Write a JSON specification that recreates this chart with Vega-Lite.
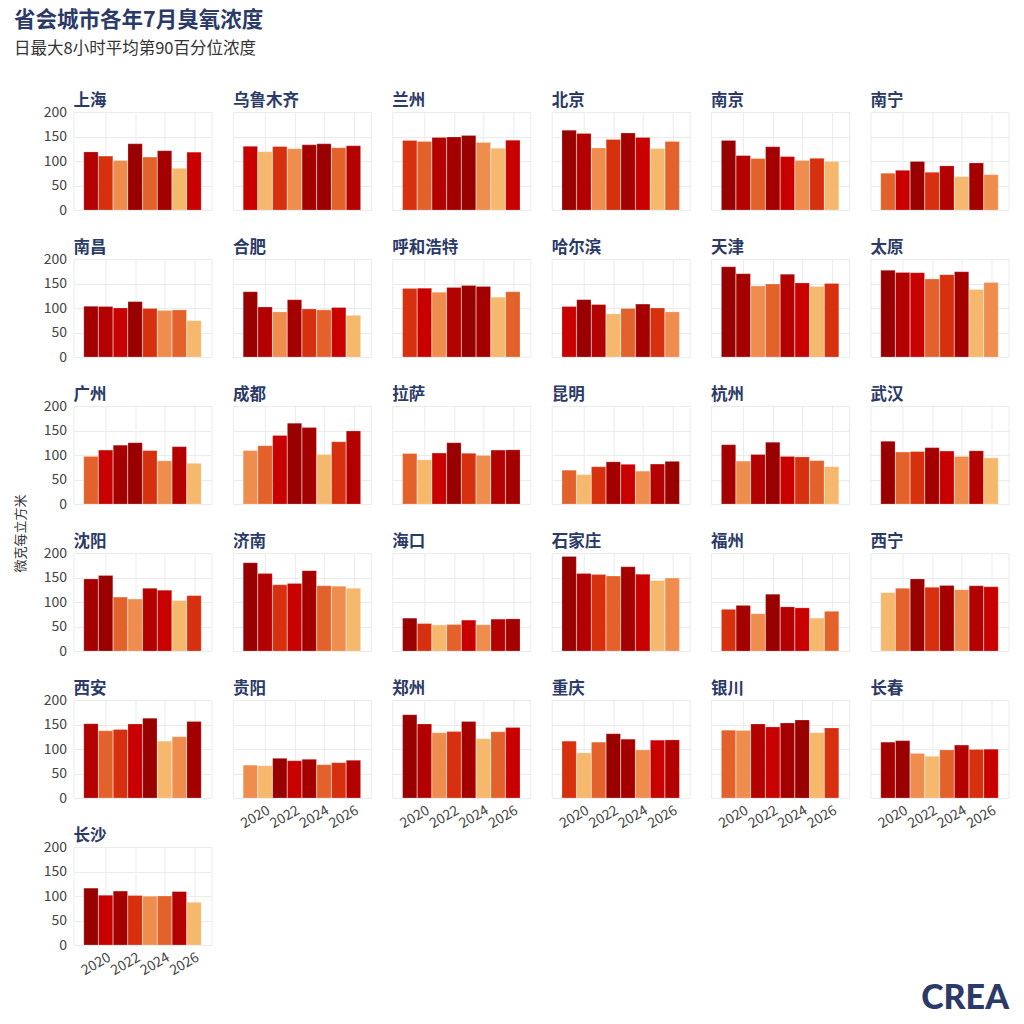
{
  "$schema": "https://vega.github.io/schema/vega-lite/v6.json",
  "description": "省会城市各年7月臭氧浓度, small multiples, bars coloured by rank within each city",
  "padding": {"left": 14, "top": 10, "right": 5, "bottom": 5},
  "background": "white",
  "title": {
    "text": "省会城市各年7月臭氧浓度",
    "subtitle": "日最大8小时平均第90百分位浓度",
    "anchor": "start",
    "font": "Noto Sans CJK SC",
    "fontSize": 21.5,
    "fontWeight": "bold",
    "color": "#2b3a67",
    "subtitleFont": "Noto Sans CJK SC",
    "subtitleFontSize": 16.5,
    "subtitleColor": "#333333",
    "subtitlePadding": 9,
    "offset": 35
  },
  "datasets": {
    "ozone": [
      {"city": "上海", "year": 2019, "value": 118.5}, {"city": "上海", "year": 2020, "value": 110}, {"city": "上海", "year": 2021, "value": 101}, {"city": "上海", "year": 2022, "value": 135}, {"city": "上海", "year": 2023, "value": 108}, {"city": "上海", "year": 2024, "value": 121}, {"city": "上海", "year": 2025, "value": 85}, {"city": "上海", "year": 2026, "value": 118},
      {"city": "乌鲁木齐", "year": 2019, "value": 130}, {"city": "乌鲁木齐", "year": 2020, "value": 119}, {"city": "乌鲁木齐", "year": 2021, "value": 129.5}, {"city": "乌鲁木齐", "year": 2022, "value": 125}, {"city": "乌鲁木齐", "year": 2023, "value": 133}, {"city": "乌鲁木齐", "year": 2024, "value": 135}, {"city": "乌鲁木齐", "year": 2025, "value": 127}, {"city": "乌鲁木齐", "year": 2026, "value": 131},
      {"city": "兰州", "year": 2019, "value": 142}, {"city": "兰州", "year": 2020, "value": 140}, {"city": "兰州", "year": 2021, "value": 148}, {"city": "兰州", "year": 2022, "value": 149}, {"city": "兰州", "year": 2023, "value": 152}, {"city": "兰州", "year": 2024, "value": 138}, {"city": "兰州", "year": 2025, "value": 126}, {"city": "兰州", "year": 2026, "value": 142.5},
      {"city": "北京", "year": 2019, "value": 163}, {"city": "北京", "year": 2020, "value": 156}, {"city": "北京", "year": 2021, "value": 126.5}, {"city": "北京", "year": 2022, "value": 144}, {"city": "北京", "year": 2023, "value": 157}, {"city": "北京", "year": 2024, "value": 148}, {"city": "北京", "year": 2025, "value": 125.5}, {"city": "北京", "year": 2026, "value": 140},
      {"city": "南京", "year": 2019, "value": 142}, {"city": "南京", "year": 2020, "value": 111}, {"city": "南京", "year": 2021, "value": 105}, {"city": "南京", "year": 2022, "value": 129}, {"city": "南京", "year": 2023, "value": 109}, {"city": "南京", "year": 2024, "value": 101}, {"city": "南京", "year": 2025, "value": 105.5}, {"city": "南京", "year": 2026, "value": 99},
      {"city": "南宁", "year": 2019, "value": 75}, {"city": "南宁", "year": 2020, "value": 81}, {"city": "南宁", "year": 2021, "value": 99}, {"city": "南宁", "year": 2022, "value": 77}, {"city": "南宁", "year": 2023, "value": 90}, {"city": "南宁", "year": 2024, "value": 68}, {"city": "南宁", "year": 2025, "value": 96}, {"city": "南宁", "year": 2026, "value": 72},
      {"city": "南昌", "year": 2019, "value": 103.5}, {"city": "南昌", "year": 2020, "value": 103}, {"city": "南昌", "year": 2021, "value": 100}, {"city": "南昌", "year": 2022, "value": 113}, {"city": "南昌", "year": 2023, "value": 99}, {"city": "南昌", "year": 2024, "value": 95}, {"city": "南昌", "year": 2025, "value": 96}, {"city": "南昌", "year": 2026, "value": 74},
      {"city": "合肥", "year": 2019, "value": 133}, {"city": "合肥", "year": 2020, "value": 102}, {"city": "合肥", "year": 2021, "value": 92}, {"city": "合肥", "year": 2022, "value": 117}, {"city": "合肥", "year": 2023, "value": 98}, {"city": "合肥", "year": 2024, "value": 96}, {"city": "合肥", "year": 2025, "value": 101}, {"city": "合肥", "year": 2026, "value": 85},
      {"city": "呼和浩特", "year": 2019, "value": 140}, {"city": "呼和浩特", "year": 2020, "value": 140.5}, {"city": "呼和浩特", "year": 2021, "value": 132}, {"city": "呼和浩特", "year": 2022, "value": 142}, {"city": "呼和浩特", "year": 2023, "value": 146}, {"city": "呼和浩特", "year": 2024, "value": 144}, {"city": "呼和浩特", "year": 2025, "value": 122}, {"city": "呼和浩特", "year": 2026, "value": 133},
      {"city": "哈尔滨", "year": 2019, "value": 103}, {"city": "哈尔滨", "year": 2020, "value": 117}, {"city": "哈尔滨", "year": 2021, "value": 107}, {"city": "哈尔滨", "year": 2022, "value": 88}, {"city": "哈尔滨", "year": 2023, "value": 99}, {"city": "哈尔滨", "year": 2024, "value": 108}, {"city": "哈尔滨", "year": 2025, "value": 100}, {"city": "哈尔滨", "year": 2026, "value": 92},
      {"city": "天津", "year": 2019, "value": 184}, {"city": "天津", "year": 2020, "value": 170}, {"city": "天津", "year": 2021, "value": 145}, {"city": "天津", "year": 2022, "value": 149}, {"city": "天津", "year": 2023, "value": 169}, {"city": "天津", "year": 2024, "value": 151}, {"city": "天津", "year": 2025, "value": 144}, {"city": "天津", "year": 2026, "value": 150},
      {"city": "太原", "year": 2019, "value": 177}, {"city": "太原", "year": 2020, "value": 172.5}, {"city": "太原", "year": 2021, "value": 172}, {"city": "太原", "year": 2022, "value": 159}, {"city": "太原", "year": 2023, "value": 168}, {"city": "太原", "year": 2024, "value": 174}, {"city": "太原", "year": 2025, "value": 138}, {"city": "太原", "year": 2026, "value": 152},
      {"city": "广州", "year": 2019, "value": 97}, {"city": "广州", "year": 2020, "value": 110}, {"city": "广州", "year": 2021, "value": 120}, {"city": "广州", "year": 2022, "value": 125}, {"city": "广州", "year": 2023, "value": 109}, {"city": "广州", "year": 2024, "value": 88}, {"city": "广州", "year": 2025, "value": 117}, {"city": "广州", "year": 2026, "value": 83},
      {"city": "成都", "year": 2019, "value": 109}, {"city": "成都", "year": 2020, "value": 119}, {"city": "成都", "year": 2021, "value": 140}, {"city": "成都", "year": 2022, "value": 165}, {"city": "成都", "year": 2023, "value": 156}, {"city": "成都", "year": 2024, "value": 101}, {"city": "成都", "year": 2025, "value": 127}, {"city": "成都", "year": 2026, "value": 149},
      {"city": "拉萨", "year": 2019, "value": 103}, {"city": "拉萨", "year": 2020, "value": 90}, {"city": "拉萨", "year": 2021, "value": 104}, {"city": "拉萨", "year": 2022, "value": 125}, {"city": "拉萨", "year": 2023, "value": 103.5}, {"city": "拉萨", "year": 2024, "value": 99}, {"city": "拉萨", "year": 2025, "value": 110}, {"city": "拉萨", "year": 2026, "value": 110.5},
      {"city": "昆明", "year": 2019, "value": 69}, {"city": "昆明", "year": 2020, "value": 60}, {"city": "昆明", "year": 2021, "value": 76}, {"city": "昆明", "year": 2022, "value": 86}, {"city": "昆明", "year": 2023, "value": 81}, {"city": "昆明", "year": 2024, "value": 67}, {"city": "昆明", "year": 2025, "value": 81.5}, {"city": "昆明", "year": 2026, "value": 87},
      {"city": "杭州", "year": 2019, "value": 121}, {"city": "杭州", "year": 2020, "value": 87.5}, {"city": "杭州", "year": 2021, "value": 101}, {"city": "杭州", "year": 2022, "value": 126}, {"city": "杭州", "year": 2023, "value": 97}, {"city": "杭州", "year": 2024, "value": 96}, {"city": "杭州", "year": 2025, "value": 88.5}, {"city": "杭州", "year": 2026, "value": 76},
      {"city": "武汉", "year": 2019, "value": 128}, {"city": "武汉", "year": 2020, "value": 106}, {"city": "武汉", "year": 2021, "value": 107}, {"city": "武汉", "year": 2022, "value": 115}, {"city": "武汉", "year": 2023, "value": 108}, {"city": "武汉", "year": 2024, "value": 97}, {"city": "武汉", "year": 2025, "value": 108.5}, {"city": "武汉", "year": 2026, "value": 94},
      {"city": "沈阳", "year": 2019, "value": 147}, {"city": "沈阳", "year": 2020, "value": 154}, {"city": "沈阳", "year": 2021, "value": 110}, {"city": "沈阳", "year": 2022, "value": 106}, {"city": "沈阳", "year": 2023, "value": 128}, {"city": "沈阳", "year": 2024, "value": 124}, {"city": "沈阳", "year": 2025, "value": 103}, {"city": "沈阳", "year": 2026, "value": 113},
      {"city": "济南", "year": 2019, "value": 180}, {"city": "济南", "year": 2020, "value": 158}, {"city": "济南", "year": 2021, "value": 135}, {"city": "济南", "year": 2022, "value": 138}, {"city": "济南", "year": 2023, "value": 164}, {"city": "济南", "year": 2024, "value": 133}, {"city": "济南", "year": 2025, "value": 132}, {"city": "济南", "year": 2026, "value": 128},
      {"city": "海口", "year": 2019, "value": 67}, {"city": "海口", "year": 2020, "value": 56}, {"city": "海口", "year": 2021, "value": 53}, {"city": "海口", "year": 2022, "value": 54}, {"city": "海口", "year": 2023, "value": 63}, {"city": "海口", "year": 2024, "value": 53.5}, {"city": "海口", "year": 2025, "value": 65}, {"city": "海口", "year": 2026, "value": 65.5},
      {"city": "石家庄", "year": 2019, "value": 193}, {"city": "石家庄", "year": 2020, "value": 158}, {"city": "石家庄", "year": 2021, "value": 156}, {"city": "石家庄", "year": 2022, "value": 153}, {"city": "石家庄", "year": 2023, "value": 172}, {"city": "石家庄", "year": 2024, "value": 156.5}, {"city": "石家庄", "year": 2025, "value": 144}, {"city": "石家庄", "year": 2026, "value": 149},
      {"city": "福州", "year": 2019, "value": 85}, {"city": "福州", "year": 2020, "value": 93}, {"city": "福州", "year": 2021, "value": 76}, {"city": "福州", "year": 2022, "value": 116}, {"city": "福州", "year": 2023, "value": 90}, {"city": "福州", "year": 2024, "value": 88}, {"city": "福州", "year": 2025, "value": 67}, {"city": "福州", "year": 2026, "value": 81},
      {"city": "西宁", "year": 2019, "value": 119}, {"city": "西宁", "year": 2020, "value": 128}, {"city": "西宁", "year": 2021, "value": 147}, {"city": "西宁", "year": 2022, "value": 130}, {"city": "西宁", "year": 2023, "value": 133.5}, {"city": "西宁", "year": 2024, "value": 125}, {"city": "西宁", "year": 2025, "value": 133}, {"city": "西宁", "year": 2026, "value": 131},
      {"city": "西安", "year": 2019, "value": 151.5}, {"city": "西安", "year": 2020, "value": 137}, {"city": "西安", "year": 2021, "value": 140}, {"city": "西安", "year": 2022, "value": 151}, {"city": "西安", "year": 2023, "value": 163}, {"city": "西安", "year": 2024, "value": 116}, {"city": "西安", "year": 2025, "value": 125}, {"city": "西安", "year": 2026, "value": 156},
      {"city": "贵阳", "year": 2019, "value": 67}, {"city": "贵阳", "year": 2020, "value": 66}, {"city": "贵阳", "year": 2021, "value": 81}, {"city": "贵阳", "year": 2022, "value": 76}, {"city": "贵阳", "year": 2023, "value": 79}, {"city": "贵阳", "year": 2024, "value": 68}, {"city": "贵阳", "year": 2025, "value": 72}, {"city": "贵阳", "year": 2026, "value": 77},
      {"city": "郑州", "year": 2019, "value": 170}, {"city": "郑州", "year": 2020, "value": 151}, {"city": "郑州", "year": 2021, "value": 133}, {"city": "郑州", "year": 2022, "value": 135.5}, {"city": "郑州", "year": 2023, "value": 156}, {"city": "郑州", "year": 2024, "value": 121}, {"city": "郑州", "year": 2025, "value": 135}, {"city": "郑州", "year": 2026, "value": 144},
      {"city": "重庆", "year": 2019, "value": 116}, {"city": "重庆", "year": 2020, "value": 92}, {"city": "重庆", "year": 2021, "value": 114}, {"city": "重庆", "year": 2022, "value": 131}, {"city": "重庆", "year": 2023, "value": 120}, {"city": "重庆", "year": 2024, "value": 98}, {"city": "重庆", "year": 2025, "value": 118}, {"city": "重庆", "year": 2026, "value": 118.5},
      {"city": "银川", "year": 2019, "value": 138.5}, {"city": "银川", "year": 2020, "value": 138}, {"city": "银川", "year": 2021, "value": 151}, {"city": "银川", "year": 2022, "value": 145}, {"city": "银川", "year": 2023, "value": 153}, {"city": "银川", "year": 2024, "value": 159}, {"city": "银川", "year": 2025, "value": 133}, {"city": "银川", "year": 2026, "value": 143},
      {"city": "长春", "year": 2019, "value": 114}, {"city": "长春", "year": 2020, "value": 117}, {"city": "长春", "year": 2021, "value": 91}, {"city": "长春", "year": 2022, "value": 85}, {"city": "长春", "year": 2023, "value": 98}, {"city": "长春", "year": 2024, "value": 108}, {"city": "长春", "year": 2025, "value": 99}, {"city": "长春", "year": 2026, "value": 99.5},
      {"city": "长沙", "year": 2019, "value": 116}, {"city": "长沙", "year": 2020, "value": 101.5}, {"city": "长沙", "year": 2021, "value": 110}, {"city": "长沙", "year": 2022, "value": 101}, {"city": "长沙", "year": 2023, "value": 99.5}, {"city": "长沙", "year": 2024, "value": 100}, {"city": "长沙", "year": 2025, "value": 109}, {"city": "长沙", "year": 2026, "value": 87}
    ]
  },
  "spacing": 12.5,
  "hconcat": [
    {
      "width": 1,
      "height": 842,
      "view": {"stroke": null},
      "data": {"name": "ozone"},
      "mark": {"type": "rule", "opacity": 0},
      "encoding": {
        "y": {
          "field": "value",
          "type": "quantitative",
          "axis": {"title": "微克每立方米", "labels": false, "grid": false, "titlePadding": 2}
        }
      }
    },
    {
      "spacing": 22,
      "vconcat": [
        {
          "data": {"name": "ozone"},
          "transform": [
            {"filter": {"not": {"field": "city", "oneOf": ["西安", "贵阳", "郑州", "重庆", "银川", "长春", "长沙"]}}},
            {"window": [{"op": "row_number", "as": "rank"}], "sort": [{"field": "value", "order": "descending"}], "groupby": ["city"]}
          ],
          "facet": {
            "field": "city",
            "type": "nominal",
            "sort": ["上海", "乌鲁木齐", "兰州", "北京", "南京", "南宁", "南昌", "合肥", "呼和浩特", "哈尔滨", "天津", "太原", "广州", "成都", "拉萨", "昆明", "杭州", "武汉", "沈阳", "济南", "海口", "石家庄", "福州", "西宁"],
            "header": {"title": null, "labelAnchor": "start", "labelFont": "Noto Sans CJK SC", "labelFontSize": 16.5, "labelFontWeight": "bold", "labelColor": "#2b3a67", "labelPadding": 3}
          },
          "columns": 6,
          "spacing": {"column": 19.4, "row": 28},
          "spec": {
            "width": 138,
            "height": 98,
            "mark": {"type": "bar", "size": 14.3, "stroke": "#ffffff", "strokeWidth": 0.6, "strokeOpacity": 0.35},
            "encoding": {
              "x": {
                "field": "year",
                "type": "quantitative",
                "scale": {"domain": [2018.155, 2026.845], "nice": false, "zero": false},
                "axis": {"title": null, "values": [2020, 2022, 2024, 2026], "labels": false}
              },
              "y": {
                "field": "value",
                "type": "quantitative",
                "scale": {"domain": [0, 200], "nice": false},
                "axis": {"title": null, "values": [0, 50, 100, 150, 200], "labelPadding": 6}
              },
              "color": {
                "field": "rank",
                "type": "ordinal",
                "scale": {"domain": [1, 2, 3, 4, 5, 6, 7, 8], "range": ["#990000", "#a50000", "#b30000", "#c80000", "#d7300f", "#e3622c", "#ef8d4f", "#f5b86d"]},
                "legend": null
              }
            }
          }
        },
        {
          "spacing": 19.4,
          "title": {
            "text": "CREA",
            "orient": "bottom",
            "anchor": "end",
            "font": "Lato",
            "fontSize": 34,
            "fontWeight": 900,
            "color": "#2b3a67",
            "offset": 4
          },
          "hconcat": [
            {
              "data": {"name": "ozone"},
              "transform": [
                {"filter": {"field": "city", "oneOf": ["西安", "长沙"]}},
                {"window": [{"op": "row_number", "as": "rank"}], "sort": [{"field": "value", "order": "descending"}], "groupby": ["city"]}
              ],
              "facet": {
                "field": "city",
                "type": "nominal",
                "sort": ["西安", "长沙"],
                "header": {"title": null, "labelAnchor": "start", "labelFont": "Noto Sans CJK SC", "labelFontSize": 16.5, "labelFontWeight": "bold", "labelColor": "#2b3a67", "labelPadding": 3}
              },
              "columns": 1,
              "spacing": {"column": 19.4, "row": 28},
              "spec": {
                "width": 138,
                "height": 98,
                "mark": {"type": "bar", "size": 14.3, "stroke": "#ffffff", "strokeWidth": 0.6, "strokeOpacity": 0.35},
                "encoding": {
                  "x": {
                    "field": "year",
                    "type": "quantitative",
                    "scale": {"domain": [2018.155, 2026.845], "nice": false, "zero": false},
                    "axis": {"title": null, "values": [2020, 2022, 2024, 2026], "format": "d", "labelAngle": -30, "labelAlign": "right", "labelBaseline": "top"}
                  },
                  "y": {
                    "field": "value",
                    "type": "quantitative",
                    "scale": {"domain": [0, 200], "nice": false},
                    "axis": {"title": null, "values": [0, 50, 100, 150, 200], "labelPadding": 6}
                  },
                  "color": {
                    "field": "rank",
                    "type": "ordinal",
                    "scale": {"domain": [1, 2, 3, 4, 5, 6, 7, 8], "range": ["#990000", "#a50000", "#b30000", "#c80000", "#d7300f", "#e3622c", "#ef8d4f", "#f5b86d"]},
                    "legend": null
                  }
                }
              }
            },
            {
              "data": {"name": "ozone"},
              "transform": [
                {"filter": {"field": "city", "oneOf": ["贵阳", "郑州", "重庆", "银川", "长春"]}},
                {"window": [{"op": "row_number", "as": "rank"}], "sort": [{"field": "value", "order": "descending"}], "groupby": ["city"]}
              ],
              "facet": {
                "field": "city",
                "type": "nominal",
                "sort": ["贵阳", "郑州", "重庆", "银川", "长春"],
                "header": {"title": null, "labelAnchor": "start", "labelFont": "Noto Sans CJK SC", "labelFontSize": 16.5, "labelFontWeight": "bold", "labelColor": "#2b3a67", "labelPadding": 3}
              },
              "columns": 5,
              "spacing": {"column": 19.4, "row": 28},
              "spec": {
                "width": 138,
                "height": 98,
                "mark": {"type": "bar", "size": 14.3, "stroke": "#ffffff", "strokeWidth": 0.6, "strokeOpacity": 0.35},
                "encoding": {
                  "x": {
                    "field": "year",
                    "type": "quantitative",
                    "scale": {"domain": [2018.155, 2026.845], "nice": false, "zero": false},
                    "axis": {"title": null, "values": [2020, 2022, 2024, 2026], "format": "d", "labelAngle": -30, "labelAlign": "right", "labelBaseline": "top"}
                  },
                  "y": {
                    "field": "value",
                    "type": "quantitative",
                    "scale": {"domain": [0, 200], "nice": false},
                    "axis": {"title": null, "values": [0, 50, 100, 150, 200], "labels": false}
                  },
                  "color": {
                    "field": "rank",
                    "type": "ordinal",
                    "scale": {"domain": [1, 2, 3, 4, 5, 6, 7, 8], "range": ["#990000", "#a50000", "#b30000", "#c80000", "#d7300f", "#e3622c", "#ef8d4f", "#f5b86d"]},
                    "legend": null
                  }
                }
              }
            }
          ]
        }
      ]
    }
  ],
  "config": {
    "font": "Noto Sans CJK SC",
    "view": {"stroke": "#ebebeb", "strokeWidth": 1},
    "axis": {
      "domain": false,
      "ticks": false,
      "grid": true,
      "gridColor": "#ebebeb",
      "gridWidth": 1,
      "labelOverlap": false,
      "labelFont": "Noto Sans CJK SC",
      "labelFontSize": 14,
      "labelColor": "#444444",
      "labelPadding": 4,
      "titleFont": "Noto Sans CJK SC",
      "titleFontSize": 13,
      "titleFontWeight": "normal",
      "titleColor": "#333333"
    }
  }
}
